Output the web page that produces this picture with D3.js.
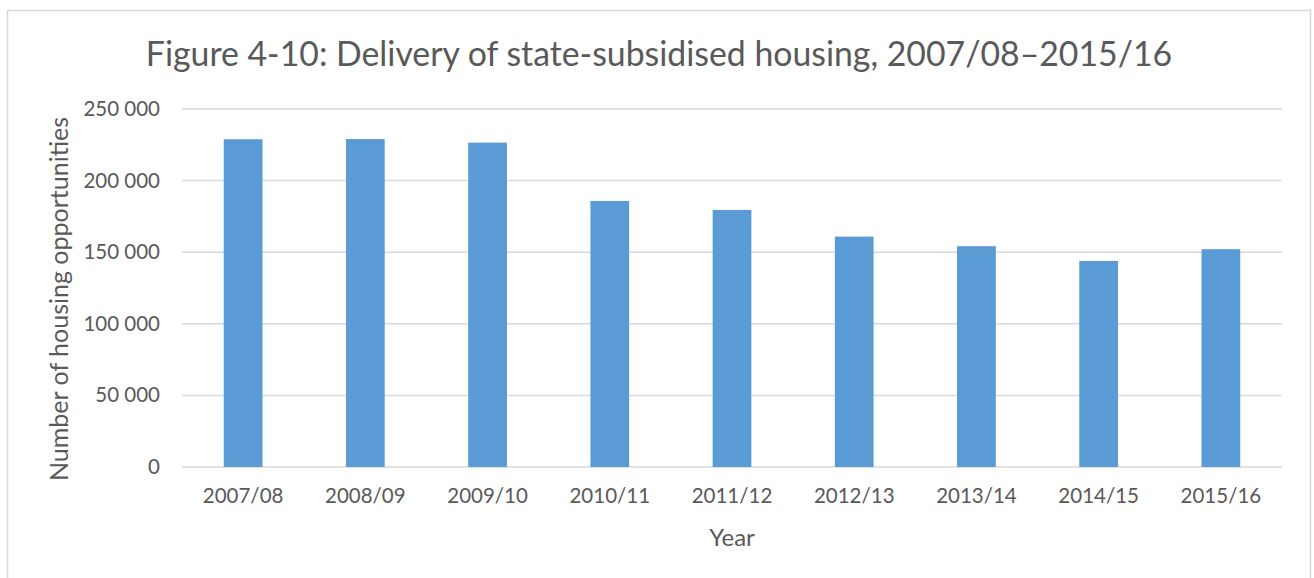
<!DOCTYPE html>
<html>
<head>
<meta charset="utf-8">
<script src="https://cdn.jsdelivr.net/npm/d3@7"></script>
<style>
  body { margin: 0; background: #fff; }
  text { font-family: Lato, "Open Sans", sans-serif; fill: #595959; }
</style>
</head>
<body>
<script>
const years = ["2007/08", "2008/09", "2009/10", "2010/11", "2011/12", "2012/13", "2013/14", "2014/15", "2015/16"];
const delivered = [228900, 229000, 226500, 185800, 179500, 160900, 154200, 143900, 152100];
const yTicks = [0, 50000, 100000, 150000, 200000, 250000];

const W = 1314, H = 578;
const margin = { top: 109, right: 32, bottom: 111, left: 182 };
const w = W - margin.left - margin.right,
    h = H - margin.top - margin.bottom;

const svg = d3.select("body").append("svg")
    .attr("width", W)
    .attr("height", H);

// chart frame
svg.append("rect")
    .attr("x", 7.5).attr("y", 10.5)
    .attr("width", 1303).attr("height", 580)
    .attr("fill", "none")
    .attr("stroke", "#d9d9d9")
    .attr("stroke-width", 1.5);

svg.append("text")
    .attr("x", 659).attr("y", 66)
    .attr("text-anchor", "middle")
    .style("font-size", "33.8px")
    .text("Figure 4-10: Delivery of state-subsidised housing, 2007/08\u20132015/16");

const g = svg.append("g")
    .attr("transform", "translate(" + margin.left + "," + margin.top + ")");

const x = d3.scaleBand()
    .domain(years)
    .range([0, w])
    .paddingInner(0.683)
    .paddingOuter(0.683 / 2);

const y = d3.scaleLinear()
    .domain([0, 250000])
    .range([h, 0]);

const fmt = d => d3.format(",")(d).replace(/,/g, " ");

// gridlines
g.append("g")
    .selectAll("line")
    .data(yTicks)
    .join("line")
    .attr("x1", 0).attr("x2", w)
    .attr("y1", d => y(d)).attr("y2", d => y(d))
    .attr("stroke", "#d9d9d9")
    .attr("stroke-width", 1.5);

const yAxis = g.append("g")
    .call(d3.axisLeft(y).tickValues(yTicks).tickFormat(fmt).tickSize(0).tickPadding(22));
yAxis.select(".domain").remove();
yAxis.selectAll("text").style("font-size", "20.5px").attr("fill", "#595959");

g.selectAll("rect.bar")
    .data(delivered)
    .join("rect")
    .attr("class", "bar")
    .attr("x", (d, i) => x(years[i]))
    .attr("y", d => y(d))
    .attr("width", x.bandwidth())
    .attr("height", d => h - y(d))
    .attr("fill", "#5b9bd5");

const xAxis = g.append("g")
    .attr("transform", "translate(0," + h + ")")
    .call(d3.axisBottom(x).tickSize(0).tickPadding(21));
xAxis.select(".domain").remove();
xAxis.selectAll("text").style("font-size", "20.5px").attr("fill", "#595959");

svg.append("text")
    .attr("x", margin.left + w / 2).attr("y", 546)
    .attr("text-anchor", "middle")
    .style("font-size", "24px")
    .text("Year");

svg.append("text")
    .attr("transform", "translate(68," + 299 + ") rotate(-90)")
    .attr("text-anchor", "middle")
    .style("font-size", "25px")
    .text("Number of housing opportunities");
</script>
</body>
</html>
